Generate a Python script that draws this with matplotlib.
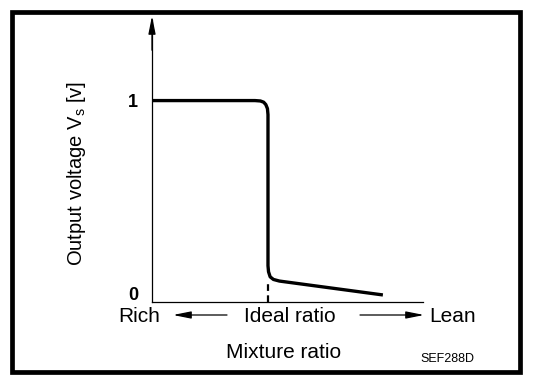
import matplotlib
matplotlib.use("Agg")
import matplotlib.pyplot as plt
from matplotlib.patches import Rectangle, FancyArrowPatch
from matplotlib.transforms import ScaledTranslation

plt.rcParams['font.family'] = ['Liberation Sans', 'DejaVu Sans']

# Curve of output voltage vs mixture ratio (x: 0 = rich end, 1 = lean end)
curve_x = [0.0, 0.38, 0.400, 0.412, 0.420, 0.426, 0.428, 0.428, 0.430, 0.436, 0.448, 0.470, 0.852]
curve_y = [1.0, 1.0, 0.998, 0.992, 0.980, 0.960, 0.930, 0.180, 0.150, 0.125, 0.112, 0.104, 0.035]
ideal_x = 0.428
ideal_y_top = 0.11
y_ticks = [0, 1]
y_tick_labels = ["0", "1"]

W, H = 544, 380
fig = plt.figure(figsize=(W / 100, H / 100), dpi=100)

def px_x(p):
    return p / W

def px_y(p):
    return 1 - p / H

# Frame border
fig.patches.append(Rectangle((px_x(12), px_y(372)), px_x(508), (372 - 12) / H,
                             transform=fig.transFigure, fill=False,
                             edgecolor='black', linewidth=3.4))

ax = fig.add_axes([px_x(152), px_y(302), px_x(423 - 152), (302 - 20) / H])
ax.set_xlim(0, 1)
ax.set_ylim(0, 1.4)
ax.patch.set_alpha(0)

for s in ['top', 'right']:
    ax.spines[s].set_visible(False)
ax.spines['left'].set_linewidth(0.9)
ax.spines['bottom'].set_linewidth(0.9)

ax.plot(curve_x, curve_y, color='black', linewidth=2.4, solid_capstyle='butt',
        solid_joinstyle='round')
ax.plot([ideal_x, ideal_x], [0, ideal_y_top], color='black', linewidth=1.6,
        linestyle=(0, (3, 2)))

arrow_kw = dict(arrowstyle='-|>,head_length=0.9,head_width=0.18', color='black',
                lw=0.9, shrinkA=0, shrinkB=0, mutation_scale=12)

# Arrow on top of y axis
ax.annotate('', xy=(0, 1.42), xytext=(0, 1.25), xycoords='data',
            arrowprops=arrow_kw, annotation_clip=False)

ax.set_xticks([])
ax.set_yticks(y_ticks)
ax.set_yticklabels(y_tick_labels, fontsize=13, fontweight='bold')
ax.tick_params(axis='y', length=0, pad=10)
lbl0 = ax.get_yticklabels()[0]
lbl0.set_transform(lbl0.get_transform() + ScaledTranslation(0, 0.08, fig.dpi_scale_trans))

fig.text(px_x(76), px_y(173), 'Output voltage V$_\\mathregular{s}$ [v]', rotation=90,
         ha='center', va='center', fontsize=14.5)

# Bottom labels
fs = 15
fig.text(px_x(139), px_y(316), 'Rich', ha='center', va='center', fontsize=fs)
fig.text(px_x(290), px_y(316), 'Ideal ratio', ha='center', va='center', fontsize=fs)
fig.text(px_x(453), px_y(316), 'Lean', ha='center', va='center', fontsize=fs)
fig.text(px_x(284), px_y(352), 'Mixture ratio', ha='center', va='center', fontsize=fs)
fig.text(px_x(447), px_y(359), 'SEF288D', ha='center', va='center', fontsize=9)

fig.add_artist(FancyArrowPatch((px_x(227), px_y(315)), (px_x(173), px_y(315)),
                               transform=fig.transFigure, **arrow_kw))
fig.add_artist(FancyArrowPatch((px_x(360), px_y(315)), (px_x(424), px_y(315)),
                               transform=fig.transFigure, **arrow_kw))

fig.savefig('out.png', dpi=100)
